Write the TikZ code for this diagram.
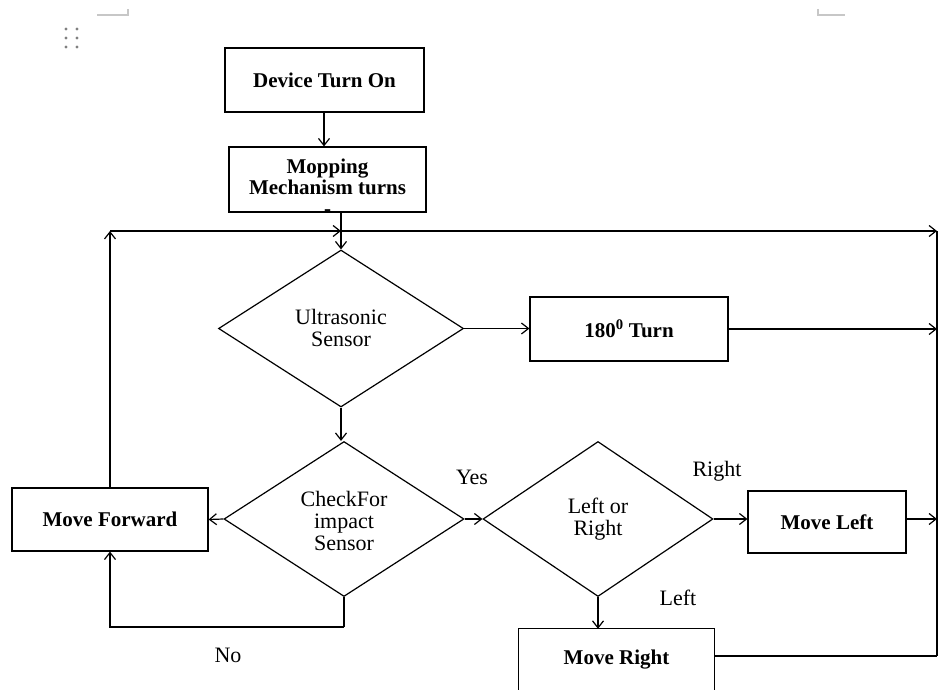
\documentclass[tikz,border=0pt]{standalone}
\usepackage{fontspec}
\setmainfont{Liberation Serif}
\usetikzlibrary{arrows.meta,shapes.geometric}
\tikzset{
  boxnode/.style={draw, line width=1.2pt, rectangle, inner sep=0pt, font=\bfseries\fontsize{21}{21}\selectfont, align=center},
  decnode/.style={draw, line width=1.2pt, diamond, inner sep=0pt},
  plain/.style={inner sep=0pt, font=\fontsize{22}{22}\selectfont, align=center},
  boldtext/.style={inner sep=0pt, font=\bfseries\fontsize{21}{21}\selectfont, align=center},
  conn/.style={line width=1.2pt},
  arr/.style={line width=1.2pt, -{Straight Barb[length=7pt,width=11pt,line width=1.2pt]}},
  markline/.style={draw=black!22, line width=1.2pt}
}
\begin{document}
\begin{tikzpicture}[x=1pt,y=-1pt]
\useasboundingbox (0,0) rectangle (939,690);
% Word artifacts
\draw[markline] (97,15) -- (128,15) -- (128,9);
\draw[markline] (818,9) -- (818,15) -- (845,15);
\foreach \dx in {66,77}{\foreach \dy in {29,38,47}{\fill[black!50] (\dx,\dy) circle (1.6);}}
% nodes
\node[boxnode, minimum width=199pt, minimum height=64pt] (dev) at (324.5,80) {Device Turn On};
\node[boxnode, minimum width=197pt, minimum height=65pt] (mop) at (327.5,179.5) {};
\node[boldtext] (moptext) at (327.5,187) {Mopping\\Mechanism turns\\-};
\node[decnode, minimum width=245pt, minimum height=157pt] (us) at (341,328.5) {};
\node[plain] (ustext) at (341,328) {Ultrasonic\\Sensor};
\node[boxnode, minimum width=198pt, minimum height=64pt] (turn) at (629,329) {180\textsuperscript{0} Turn};
\node[decnode, minimum width=240pt, minimum height=155pt] (ci) at (344,519) {};
\node[plain] (citext) at (344,520.5) {CheckFor\\impact\\Sensor};
\node[boxnode, minimum width=196pt, minimum height=63pt] (mf) at (110,519.5) {Move Forward};
\node[decnode, minimum width=230pt, minimum height=155pt] (lr) at (598,519) {};
\node[plain] (lrtext) at (598,519) {Left or\\Right};
\node[boxnode, minimum width=158pt, minimum height=62pt] (ml) at (827,522) {Move Left};
\node[boldtext, minimum width=195pt, minimum height=61pt] (mr) at (616.5,659.5) {Move Right};
\draw[conn] (mr.south west) |- (mr.north east) -- (mr.south east);
% labels
\node[plain] (yes) at (472,477) {Yes};
\node[plain] (no) at (228,655) {No};
\node[plain] (rightlbl) at (717,471) {Right};
\node[plain] (leftlbl) at (678,598) {Left};
% coordinates
\coordinate (jn) at (341,231);
\coordinate (rtop) at (937,231);
\coordinate (rbot) at (937,656);
\coordinate (corner) at (110,231);
\coordinate (nob) at (344,627);
% connectors
\draw[arr] (dev.south -| 324,0) -- (mop.north -| 324,0);
\draw[conn] (us.north |- mop.south) -- (jn);
\draw[arr] (jn) -- (us.north);
\draw[arr] (mf.north) -- (corner);
\draw[arr] (corner) -- (jn);
\draw[arr] (jn) -- (rtop);
\draw[conn] (rtop) -- (rbot);
\draw[arr] (us.east) -- (us.east -| turn.west);
\draw[arr] (turn.east) -- (turn.east -| rtop);
\draw[arr] (us.south) -- (us.south |- ci.north);
\draw[arr] (ci.west) -- (mf.east);
\draw[conn] (ci.south) -- (nob);
\draw[arr] (nob) -| (mf.south);
\draw[arr] (ci.east) -- (lr.west);
\draw[arr] (lr.east) -- (lr.east -| ml.west);
\draw[arr] (ml.east |- lr.east) -- (lr.east -| rtop);
\draw[arr] (lr.south) -- (lr.south |- mr.north);
\draw[conn] (mr.east |- rbot) -- (rbot);
\end{tikzpicture}
\end{document}
